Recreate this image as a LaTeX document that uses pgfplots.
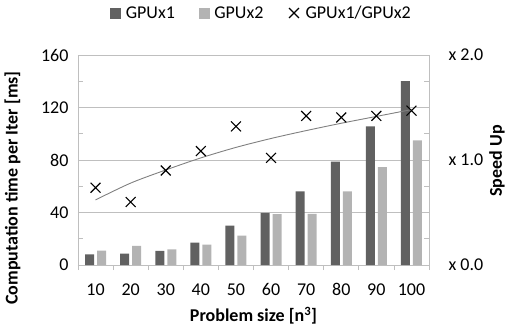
\documentclass[border=0pt]{standalone}
\usepackage{pgfplots}
\pgfplotsset{compat=1.18}
\usepackage{fontspec}
\setmainfont{Carlito}
\definecolor{darkbar}{HTML}{616161}
\definecolor{lightbar}{HTML}{B3B3B3}
\definecolor{gridc}{HTML}{BFBFBF}
\pgfplotsset{crosslegend/.style={legend image code/.code={\path (0pt,0pt) (15pt,0pt);\draw[##1] plot coordinates {(6pt,0pt)};}}}
\begin{document}
\begin{tikzpicture}[font=\fontsize{18}{21}\selectfont]
\useasboundingbox (-78pt,-64pt) rectangle (430pt,265pt);
\begin{axis}[
  at={(0,0)}, anchor=south west, scale only axis,
  width=351pt, height=210pt,
  xmin=-0.5, xmax=9.5, ymin=0, ymax=160,
  ybar=3pt, bar width=9pt,
  axis lines*=left,
  axis line style={gridc, line width=0.8pt},
  xtick={0,...,9},
  xticklabels={10,20,30,40,50,60,70,80,90,100},
  minor xtick={-0.5,0.5,...,9.5},
  major x tick style={draw=none},
  minor x tick style={gridc, line width=0.8pt, yshift=-5pt},
  ytick={0,40,80,120,160},
  yticklabels={0,40,80,120,160},
  minor ytick={20,60,100,140},
  ymajorgrids,
  grid style={gridc, line width=0.8pt},
  tick align=inside,
  minor tick length=5pt, major tick length=0pt,
  minor y tick style={gridc, line width=0.8pt},
  xtick pos=left, ytick pos=left,
  xticklabel style={yshift=-15pt},
  yticklabel style={xshift=-6pt},
  xlabel={\textbf{Problem size [n\textsuperscript{3}]}},
  xlabel style={at={(axis description cs:0.5,-0.243)}, anchor=center},
  ylabel={\textbf{Computation time per Iter [ms]}},
  ylabel style={at={(axis description cs:-0.1866,0.367)}, anchor=center},
]
\addplot[fill=darkbar, draw=none] coordinates {
 (0,8.1) (1,8.6) (2,10.7) (3,17) (4,30) (5,39.8) (6,56) (7,78.7) (8,105.6) (9,140)};
\addplot[fill=lightbar, draw=none] coordinates {
 (0,10.9) (1,14.5) (2,11.9) (3,15.5) (4,22.3) (5,38.8) (6,39) (7,56) (8,74.6) (9,95)};
\end{axis}
\begin{axis}[
  at={(0,0)}, anchor=south west, scale only axis,
  width=351pt, height=210pt,
  xmin=-0.5, xmax=9.5, ymin=0, ymax=2,
  axis x line=none, axis y line*=right,
  axis line style={gridc, line width=0.8pt},
  ytick={0,1,2},
  yticklabels={x 0.0,x 1.0,x 2.0},
  minor ytick={0.25,0.5,...,1.75},
  tick align=inside,
  minor tick length=5pt, major tick length=0pt,
  minor y tick style={gridc, line width=0.8pt},
  yticklabel style={xshift=16pt},
  ylabel={\textbf{Speed Up}},
  ylabel style={at={(axis description cs:1.194,0.495)}, anchor=center},
  legend columns=3,
  legend style={at={(axis description cs:0.523,1.2)}, anchor=center, draw=none, fill=none,
    /tikz/every even column/.append style={column sep=22pt}},
]
\addlegendimage{legend image code/.code={\path (0pt,0pt) (13pt,0pt);\fill[darkbar] (0pt,-5pt) rectangle (10pt,5pt);}}
\addlegendentry{GPUx1}
\addlegendimage{legend image code/.code={\path (0pt,0pt) (13pt,0pt);\fill[lightbar] (0pt,-5pt) rectangle (10pt,5pt);}}
\addlegendentry{GPUx2}
\addplot[only marks, mark=x, mark size=7pt, black, line width=1.1pt, crosslegend] coordinates {
 (0,0.736) (1,0.60) (2,0.90) (3,1.085) (4,1.32) (5,1.02) (6,1.42) (7,1.405) (8,1.42) (9,1.47)};
\addlegendentry{GPUx1/GPUx2}
\addplot[forget plot, color=gray, line width=0.9pt, smooth, no marks] coordinates {
 (0,0.62) (1,0.78) (2,0.905) (3,1.02) (4,1.12) (5,1.205) (6,1.28) (7,1.35) (8,1.415) (9,1.48)};
\end{axis}
\end{tikzpicture}
\end{document}
